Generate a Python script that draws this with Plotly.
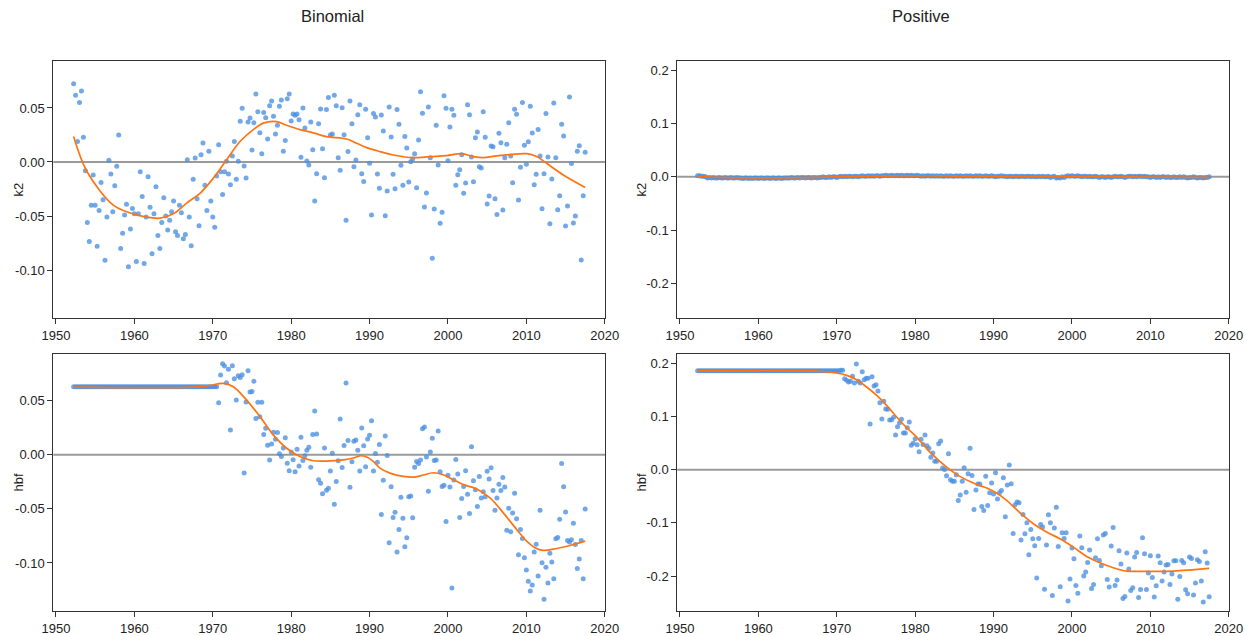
import plotly.graph_objects as go

# ---------------- data (quarterly observations, first at 1952.25) ----------------
start_year = 1952.25

k2_binomial = [
    0.0725, 0.0617, 0.019, 0.055, 0.0657, 0.0228, -0.008, -0.056, -0.0735, -0.040,
    -0.012, -0.040, -0.078, -0.045, -0.019, -0.035, -0.091, -0.051, 0.0015, -0.011,
    -0.046, -0.022, -0.004, 0.025, -0.080, -0.066, -0.049, -0.039, -0.097, -0.062,
    -0.043, -0.048, -0.092, -0.048, -0.009, -0.032, -0.094, -0.051, -0.0136, -0.042,
    -0.085, -0.048, -0.023, -0.068, -0.080, -0.056, -0.033, -0.050, -0.063, -0.054,
    -0.046, -0.036, -0.0645, -0.068, -0.040, -0.047, -0.071, -0.067, 0.002, -0.051,
    -0.0775, -0.016, 0.0037, -0.034, -0.059, 0.0068, 0.0176, -0.0216, -0.045, 0.010,
    -0.036, -0.051, -0.0605, -0.013, 0.016, -0.009, -0.030, -0.009, 0.0006, -0.011,
    -0.021, 0.0056, 0.019, -0.016, 0.0006, 0.0377, 0.0497, -0.0037, -0.0148, 0.037,
    0.0407, 0.011, 0.0364, 0.063, 0.0466, 0.027, 0.0077, 0.0457, 0.041, 0.0213,
    0.052, 0.0565, 0.0423, 0.026, 0.034, 0.0515, 0.0574, 0.0099, 0.0198, 0.0586,
    0.063, 0.038, 0.0444, 0.0432, 0.0444, 0.039, 0.0043, 0.050, 0.0315, 0.0009,
    -0.0028, 0.037, 0.0114, -0.036, -0.0108, 0.0355, 0.049, 0.0123, -0.0145, 0.0485,
    0.0596, 0.025, 0.026, 0.0617, 0.052, 0.004, -0.0077,
    0.0503, 0.0253, -0.054, 0.0096, 0.0565, 0.0355, -0.0043, 0.0019, 0.0438, 0.053,
    -0.0108, -0.018, 0.0488, 0.0225, -0.0012, -0.049, 0.0448, 0.0417, -0.011, -0.0244,
    0.0435, 0.0287, -0.0497, -0.0269, 0.051, 0.0231, -0.0114, -0.0247, 0.0485, 0.0349,
    -0.003, -0.0216, 0.0235, 0.013, -0.0185, 0.0003, 0.0028, 0.0077, -0.0238, 0.0204,
    0.0651, 0.045, -0.0417, -0.0287, 0.051, 0.004, -0.0892, -0.0435, 0.034, -0.0028,
    -0.0568, -0.0466, 0.0614, 0.0497, 0.0012, 0.0324, 0.0488, 0.0432, -0.0216, -0.0117,
    -0.0071, 0.0068, -0.029, -0.0194, 0.053, 0.0438, 0.0046, -0.0182, 0.0225, 0.0278,
    -0.0043, -0.0056, 0.0466, 0.0228, -0.0389, -0.0315, 0.0148, 0.0142, -0.034, -0.0485,
    0.0265, 0.0179, -0.0444, 0.004, 0.0164, 0.0364, 0.0056, -0.0191, 0.0488, 0.0441,
    -0.0352, -0.0049, 0.055, 0.0154, -0.0022, 0.0188, 0.0515, 0.0269, -0.021, -0.0114,
    0.030, 0.0056, -0.0432, -0.0108, 0.0448, 0.0046, -0.0571, -0.0157, 0.0546, 0.004,
    -0.0441, -0.0312, 0.0349, 0.0241, -0.0593, -0.0407, 0.0602, -0.0015, -0.0565, -0.050,
    0.0099, 0.0151, -0.0907, -0.0312, 0.009,
]

k2_positive = [
    0.002, 0.002, 0.001,
    0.001, 0.000, -0.002, -0.001, -0.002, -0.001, -0.002, -0.002,
    -0.001, -0.002, -0.002, -0.001, -0.002, -0.002, -0.001, -0.002,
    -0.002, -0.001, -0.002, -0.002, -0.003, -0.002, -0.002, -0.003,
    -0.002, -0.003, -0.002, -0.002, -0.003, -0.002, -0.002, -0.003,
    -0.002, -0.002, -0.003, -0.002, -0.002, -0.003, -0.002, -0.002,
    -0.003, -0.002, -0.002, -0.002, -0.002, -0.001, -0.002, -0.002,
    -0.001, -0.002, -0.001, -0.001, -0.002, -0.001, -0.001, -0.002,
    -0.001, -0.001, -0.002, -0.001, -0.001, 0.000, -0.001, -0.001,
    0.000, -0.001, 0.000, 0.000, -0.001, 0.000, 0.001, 0.000,
    0.001, 0.000, 0.001, 0.001, 0.000, 0.001, 0.001, 0.000,
    0.001, 0.002, 0.001, 0.001, 0.002, 0.001, 0.002, 0.001,
    0.002, 0.002, 0.001, 0.002, 0.002, 0.003, 0.002, 0.002,
    0.003, 0.002, 0.002, 0.003, 0.002, 0.003, 0.002, 0.002,
    0.003, 0.002, 0.003, 0.002, 0.002, 0.003, 0.002, 0.001,
    0.002, 0.001, 0.002, 0.002, 0.001, 0.002, 0.001, 0.002,
    0.001, 0.002, 0.001, 0.001, 0.002, 0.001, 0.002, 0.001,
    0.001, 0.002, 0.001, 0.002, 0.001, 0.001, 0.002, 0.001,
    0.002, 0.001, 0.001, 0.002, 0.001, 0.002, 0.001, 0.001,
    0.002, 0.001, 0.001, 0.002, 0.001, 0.000, 0.001, 0.001,
    0.002, 0.001, 0.001, 0.000, 0.001, 0.001, 0.000, 0.001,
    0.001, 0.000, 0.001, 0.001, 0.000, 0.001, 0.001, 0.000,
    0.001, 0.000, 0.000, 0.001, 0.000, 0.001, 0.000, 0.000,
    0.001, -0.001, 0.000, 0.001, -0.002, -0.001, -0.002, 0.000,
    -0.001, 0.001, 0.002, 0.001, 0.002, 0.001, 0.001, 0.002,
    0.001, 0.000, 0.001, 0.001, 0.000, 0.001, 0.000, 0.000,
    0.001, 0.000, -0.001, 0.000, 0.000, -0.001, 0.000, 0.000,
    -0.001, 0.000, 0.001, 0.000, 0.000, 0.001, 0.000, -0.001,
    0.000, 0.001, 0.001, 0.000, 0.001, 0.000, 0.001, 0.001,
    0.000, 0.001, 0.000, 0.000, -0.001, 0.000, 0.000, -0.001,
    0.000, -0.001, 0.000, 0.000, -0.001, 0.000, -0.001, -0.001,
    0.000, -0.001, -0.001, 0.000, -0.001, 0.000, -0.001, -0.002,
    -0.001, -0.001, 0.000, -0.001, -0.002, -0.001, -0.001, -0.002,
    -0.001, -0.001, 0.000,
]

hbf_binomial = [
    0.063, 0.063, 0.063, 0.063, 0.063, 0.063, 0.063, 0.063, 0.063, 0.063,
    0.063, 0.063, 0.063, 0.063, 0.063, 0.063, 0.063, 0.063, 0.063, 0.063,
    0.063, 0.063, 0.063, 0.063, 0.063, 0.063, 0.063, 0.063, 0.063, 0.063,
    0.063, 0.063, 0.063, 0.063, 0.063, 0.063, 0.063, 0.063, 0.063, 0.063,
    0.063, 0.063, 0.063, 0.063, 0.063, 0.063, 0.063, 0.063, 0.063, 0.063,
    0.063, 0.063, 0.063, 0.063, 0.063, 0.063, 0.063, 0.063, 0.063, 0.063,
    0.063, 0.063, 0.063, 0.063, 0.063, 0.063, 0.063, 0.063, 0.063, 0.063,
    0.063, 0.063, 0.063, 0.063,
    0.0482, 0.0737, 0.0841, 0.082, 0.0666, 0.0792, 0.023, 0.0823, 0.0703, 0.0506,
    0.073, 0.0715, 0.074, -0.0169, 0.0488, 0.0777, 0.058, 0.0586, 0.0681, 0.0335,
    0.0485, 0.0353, 0.0485, 0.0187, 0.0246, 0.0089, -0.0049, 0.0101, 0.0209, 0.0144,
    0.0206, 0.0009, -0.0015, 0.0064, 0.0157, -0.0077, -0.0147, 0.0025, -0.0046, -0.0157,
    0.0052, -0.0104, 0.0163, -0.0052, -0.0009, 0.0043, 0.007, -0.0114, 0.0187, 0.0405,
    0.0193, -0.023, -0.0264, -0.0359, 0.0064, -0.0328, -0.031, -0.015, 0.0015, -0.0457,
    -0.0246, -0.0055, 0.033,
    -0.0117, 0.0086, 0.0663, 0.0132, -0.0301, -0.0064, 0.0126, 0.0138, 0.0043, -0.015,
    0.0249, 0.0083, -0.011, 0.0147, 0.0181, 0.0316, -0.015, 0.0012, -0.0068, 0.0095,
    -0.0552, -0.0236, 0.0175, -0.0006, -0.0813, -0.0295, -0.058, -0.0531, -0.0899, -0.069,
    -0.0393, -0.0586, -0.085, -0.0767, -0.0387, -0.0381, -0.0583, -0.0114, -0.0061, -0.008,
    -0.0049, 0.0242, 0.0258, -0.0021, -0.0338, 0.0025, 0.0153, -0.0052, -0.0049, 0.0221,
    -0.0157, -0.0292, -0.0282, -0.0617, -0.019, -0.0298, -0.1231, -0.0233, -0.0043, -0.0178,
    -0.058, -0.0405, -0.0292, -0.0147, -0.0365, -0.0543, 0.0074, -0.0239, -0.0322, -0.0479,
    -0.02, -0.0399, -0.0341, -0.0387, -0.0153, -0.0224, -0.012, -0.0331, -0.0513, -0.0399,
    -0.0273, -0.0331, -0.0209, -0.0298, -0.0697, -0.0494, -0.0712, -0.0537, -0.0356, -0.0592,
    -0.0924, -0.069, -0.0773, -0.0951, -0.1065, -0.1169, -0.1258, -0.1203, -0.0899, -0.0826,
    -0.112, -0.0513, -0.0998, -0.1335, -0.104, -0.1185, -0.0909, -0.0991, -0.1145, -0.0777,
    -0.0764, -0.0595, -0.008, -0.0295, -0.0528, -0.0792, -0.0807, -0.0786, -0.0632, -0.083,
    -0.105, -0.0964, -0.0792, -0.1145, -0.050,
]

hbf_positive = [
    0.186, 0.186, 0.186, 0.186, 0.186, 0.186, 0.186, 0.186, 0.186, 0.186,
    0.186, 0.186, 0.186, 0.186, 0.186, 0.186, 0.186, 0.186, 0.186, 0.186,
    0.186, 0.186, 0.186, 0.186, 0.186, 0.186, 0.186, 0.186, 0.186, 0.186,
    0.186, 0.186, 0.186, 0.186, 0.186, 0.186, 0.186, 0.186, 0.186, 0.186,
    0.186, 0.186, 0.186, 0.186, 0.186, 0.186, 0.186, 0.186, 0.186, 0.186,
    0.186, 0.186, 0.186, 0.186, 0.186, 0.186, 0.186, 0.186, 0.186, 0.186,
    0.186, 0.186, 0.186, 0.186, 0.186, 0.186, 0.186, 0.186, 0.186, 0.186,
    0.186, 0.186, 0.186, 0.187, 0.187,
    0.1712, 0.168, 0.1649, 0.1661, 0.1755, 0.163, 0.1987, 0.1661, 0.163, 0.1843, 0.1693,
    0.1718, 0.1718, 0.0859, 0.1749, 0.1574, 0.1599, 0.148, 0.126, 0.0953, 0.1285,
    0.1141, 0.1135, 0.0934, 0.094, 0.0984, 0.0652, 0.0809, 0.0884, 0.0947, 0.069,
    0.069, 0.079, 0.0897, 0.0458, 0.0495, 0.0583, 0.047, 0.0339, 0.0571, 0.0476,
    0.0652, 0.0451, 0.0401, 0.0232,
    0.0313, 0.0157, 0.0157, 0.0489, 0.0539, 0.0031, 0.0006, -0.0113, 0.0301, -0.0188,
    -0.0219, -0.0219, -0.0094, -0.0577, -0.0476, -0.0219, 0.0038, -0.0426, -0.0075, 0.0401,
    -0.0107, -0.0746, -0.0382, -0.027, -0.027, -0.069, -0.0765, -0.0125, -0.0671, -0.0433,
    -0.0251, -0.0458, -0.0056, -0.0552, -0.0433, -0.0389, -0.015, -0.0884, -0.0288, 0.0088,
    -0.0263, -0.1197, -0.0658, -0.0608, -0.0621, -0.1323, -0.084, -0.1204, -0.0997, -0.1599,
    -0.1122, -0.1298, -0.1429, -0.2038, -0.1292, -0.1028, -0.1078, -0.2245, -0.1417, -0.0846,
    -0.0997, -0.2364, -0.1097, -0.0708, -0.1442, -0.2201, -0.1185, -0.1292, -0.1185, -0.247,
    -0.2056, -0.1473, -0.1674, -0.2176, -0.232, -0.1248, -0.1467, -0.2, -0.1925, -0.1743,
    -0.1511, -0.2232, -0.2157, -0.1655, -0.1298, -0.1705, -0.1806, -0.1229, -0.1197, -0.2063,
    -0.2207, -0.1436, -0.1085, -0.2176, -0.2075, -0.1524, -0.1774, -0.242, -0.2382, -0.1567,
    -0.1868, -0.227, -0.2219, -0.1643, -0.1555, -0.2401, -0.2251, -0.1279, -0.158, -0.2251,
    -0.1944, -0.1618, -0.2025, -0.2395, -0.2182, -0.1624, -0.1749, -0.2094, -0.1925, -0.1793,
    -0.1781, -0.2157, -0.1962, -0.1712, -0.1712, -0.2433, -0.2006, -0.1705, -0.1749, -0.2257,
    -0.2332, -0.1643, -0.1668, -0.2357, -0.2132, -0.1693, -0.1724, -0.2094, -0.2489, -0.1542,
    -0.1755, -0.2389,
]

# smoothed fits
fit_k2_binomial_x = [1952.25, 1953.97, 1957.31, 1959.01, 1961.56, 1963.27, 1964.97, 1966.67,
                     1968.37, 1970.07, 1971.77, 1973.47, 1975.17, 1976.45, 1978.15, 1979.42,
                     1981.12, 1982.82, 1984.52, 1987.07, 1988.35, 1989.63, 1991.33, 1993.03,
                     1995.58, 1997.70, 1999.83, 2001.74, 2003.23, 2004.51, 2006.21, 2007.91,
                     2010.04, 2011.31, 2012.59, 2014.71, 2017.5]
fit_k2_binomial_y = [0.0235, -0.009, -0.040, -0.046, -0.051, -0.052, -0.048, -0.038,
                     -0.029, -0.015, 0.002, 0.019, 0.030, 0.036, 0.0373, 0.034,
                     0.030, 0.027, 0.0235, 0.0213, 0.0173, 0.0133, 0.0096, 0.0065,
                     0.004, 0.005, 0.0059, 0.0077, 0.005, 0.004, 0.0056, 0.0068,
                     0.0077, 0.005, -0.0012, -0.012, -0.0235]

fit_k2_positive_x = [1952.25, 1955, 1960, 1965, 1970, 1975, 1980, 1985, 1990, 1995, 2000,
                     2005, 2010, 2017.5]
fit_k2_positive_y = [0.001, -0.001, -0.002, -0.0015, 0.0, 0.0015, 0.002, 0.0015, 0.001,
                     0.0005, 0.0005, 0.0002, -0.0003, -0.001]

fit_hbf_binomial_x = [1952.25, 1967.52, 1969.5, 1971.35, 1972.62, 1974.32, 1976.02, 1977.72,
                      1979.42, 1981.12, 1982.82, 1984.52, 1986.65, 1987.93, 1988.78, 1989.63,
                      1990.48, 1991.33, 1992.6, 1994.3, 1995.79, 1996.85, 1998.13, 1999.4,
                      2000.68, 2001.96, 2003.66, 2005.36, 2007.06, 2008.76, 2010.04, 2011.1,
                      2012.16, 2013.86, 2015.56, 2017.5]
fit_hbf_binomial_y = [0.0626, 0.0626, 0.064, 0.066, 0.063, 0.0506, 0.0353, 0.0184,
                      0.0061, -0.0015, -0.0055, -0.0058, -0.0046, -0.003, -0.0009, -0.0021,
                      -0.0061, -0.0123, -0.0169, -0.020, -0.0206, -0.0187, -0.0166, -0.0184,
                      -0.023, -0.0276, -0.0316, -0.0399, -0.0537, -0.069, -0.0798, -0.0859,
                      -0.0884, -0.0866, -0.0838, -0.0798]

fit_hbf_positive_x = [1952.25, 1966.58, 1968.28, 1969.98, 1971.26, 1972.53, 1973.81, 1975.09,
                      1976.36, 1977.64, 1978.91, 1980.19, 1981.89, 1984.01, 1985.71, 1987.41,
                      1989.12, 1990.39, 1991.67, 1993.37, 1995.07, 1996.77, 1998.47, 2000.17,
                      2001.87, 2003.57, 2005.27, 2006.97, 2008.67, 2010.37, 2012.93, 2017.5]
fit_hbf_positive_y = [0.1856, 0.1856, 0.1843, 0.1818, 0.1774, 0.1693, 0.1555, 0.1398,
                      0.121, 0.0991, 0.079, 0.0614, 0.0332, 0.005, -0.0125, -0.025,
                      -0.0345, -0.0439, -0.0577, -0.0809, -0.1016, -0.1172, -0.1298, -0.1455,
                      -0.163, -0.1749, -0.1843, -0.1906, -0.1912, -0.1912, -0.1906, -0.1856]

x_ticks = [1950, 1960, 1970, 1980, 1990, 2000, 2010, 2020]
y_ticks_left = [-0.10, -0.05, 0.00, 0.05]
y_labels_left = ["-0.10", "-0.05", "0.00", "0.05"]
y_ticks_right = [-0.2, -0.1, 0.0, 0.1, 0.2]
y_labels_right = ["-0.2", "-0.1", "0.0", "0.1", "0.2"]

# ---------------- figure ----------------
W, H = 1253, 636
FONT = "Liberation Sans, Arial, sans-serif"
POINT = "rgba(74,144,226,0.78)"
LINE = "#ff7412"


def years_for(vals):
    return [start_year + 0.25 * i for i in range(len(vals))]


panels = [
    ("x", "y", k2_binomial, fit_k2_binomial_x, fit_k2_binomial_y),
    ("x2", "y2", k2_positive, fit_k2_positive_x, fit_k2_positive_y),
    ("x3", "y3", hbf_binomial, fit_hbf_binomial_x, fit_hbf_binomial_y),
    ("x4", "y4", hbf_positive, fit_hbf_positive_x, fit_hbf_positive_y),
]

fig = go.Figure()
for xa, ya, vals, fx, fy in panels:
    fig.add_trace(go.Scatter(x=years_for(vals), y=vals, mode="markers", xaxis=xa, yaxis=ya,
                             marker=dict(size=5, color=POINT, line=dict(width=0)),
                             showlegend=False, hoverinfo="skip"))
    fig.add_trace(go.Scatter(x=fx, y=fy, mode="lines", xaxis=xa, yaxis=ya,
                             line=dict(color=LINE, width=1.7, shape="spline", smoothing=1.0),
                             showlegend=False, hoverinfo="skip"))

left_dom = [53.3 / W, 605 / W]
right_dom = [677.3 / W, 1229 / W]
top_dom = [1 - 318 / H, 1 - 61.3 / H]
bot_dom = [1 - 611 / H, 1 - 354 / H]
x_range = [1949.66, 2020.03]
y_left_range = [-0.1444, 0.0932]
y_right_range = [-0.2656, 0.2175]

axis_common = dict(showline=True, mirror=True, linecolor="#333333", linewidth=1,
                   ticks="outside", ticklen=5, tickwidth=1, tickcolor="#333333",
                   showgrid=False, zeroline=False, automargin=False,
                   tickfont=dict(family=FONT, size=13, color="#222222"))


def xaxis(dom, anchor):
    return dict(domain=dom, anchor=anchor, range=x_range, tickvals=x_ticks,
                ticktext=[str(t) for t in x_ticks], **axis_common)


def yaxis(dom, anchor, rng, tv, tt):
    return dict(domain=dom, anchor=anchor, range=rng, tickvals=tv, ticktext=tt, **axis_common)


fig.update_layout(
    width=W, height=H, margin=dict(l=0, r=0, t=0, b=0, autoexpand=False),
    paper_bgcolor="white", plot_bgcolor="white",
    xaxis=xaxis(left_dom, "y"),
    yaxis=yaxis(top_dom, "x", y_left_range, y_ticks_left, y_labels_left),
    xaxis2=xaxis(right_dom, "y2"),
    yaxis2=yaxis(top_dom, "x2", y_right_range, y_ticks_right, y_labels_right),
    xaxis3=xaxis(left_dom, "y3"),
    yaxis3=yaxis(bot_dom, "x3", y_left_range, y_ticks_left, y_labels_left),
    xaxis4=xaxis(right_dom, "y4"),
    yaxis4=yaxis(bot_dom, "x4", y_right_range, y_ticks_right, y_labels_right),
)

# zero reference lines
for xa, ya in [("x", "y"), ("x2", "y2"), ("x3", "y3"), ("x4", "y4")]:
    fig.add_shape(type="line", xref=f"{xa} domain", yref=ya, x0=0, x1=1, y0=0, y1=0,
                  line=dict(color="#9a9a9a", width=2), layer="below")

# column titles and axis labels
annots = [
    dict(text="Binomial", x=333 / W, y=1 - 16 / H, size=16.5, angle=0),
    dict(text="Positive", x=921 / W, y=1 - 16 / H, size=16.5, angle=0),
    dict(text="k2", x=18 / W, y=1 - 189.5 / H, size=13, angle=-90),
    dict(text="hbf", x=18 / W, y=1 - 482.5 / H, size=13, angle=-90),
    dict(text="k2", x=641 / W, y=1 - 189.5 / H, size=13, angle=-90),
    dict(text="hbf", x=641 / W, y=1 - 482.5 / H, size=13, angle=-90),
]
for a in annots:
    fig.add_annotation(text=a["text"], x=a["x"], y=a["y"], xref="paper", yref="paper",
                       showarrow=False, textangle=a["angle"], xanchor="center", yanchor="middle",
                       font=dict(family=FONT, size=a["size"], color="#222222"))

fig.write_html("out.html")
